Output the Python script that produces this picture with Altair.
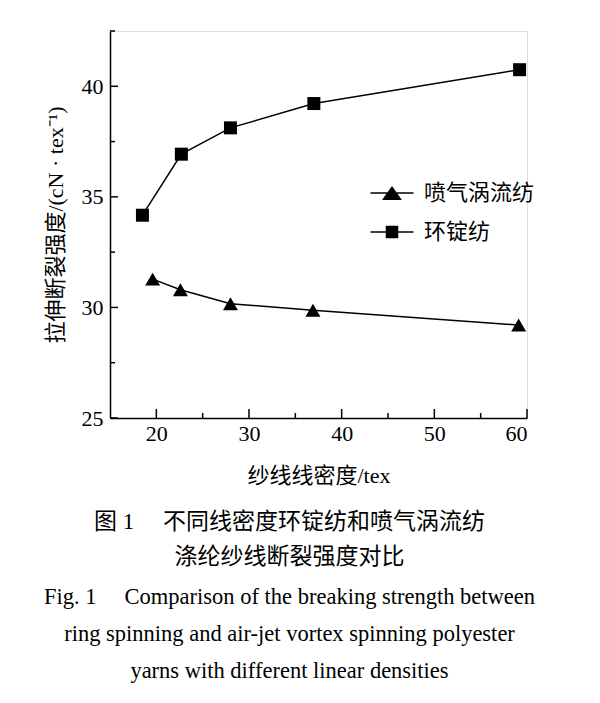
import altair as alt
import pandas as pd

# ---- data ----
series_names = ["喷气涡流纺", "环锭纺"]
density_air = [19.6, 22.6, 28.0, 36.9, 59.1]
strength_air = [31.28, 30.80, 30.17, 29.87, 29.20]
density_ring = [18.5, 22.7, 28.0, 37.0, 59.2]
strength_ring = [34.17, 36.93, 38.12, 39.22, 40.75]
x_major = [20, 30, 40, 50, 60]
x_minor = [25, 35, 45, 55]
y_major = [25, 30, 35, 40]
y_minor = [27.5, 32.5, 37.5, 42.5]
x_title = "纱线线密度/tex"
y_title = "拉伸断裂强度/(cN · tex⁻¹)"
caption_cn = ["图 1\u3000 不同线密度环锭纺和喷气涡流纺", "涤纶纱线断裂强度对比"]
caption_en = [
    "Fig. 1\u2003 Comparison of the breaking strength between",
    "ring spinning and air-jet vortex spinning polyester",
    "yarns with different linear densities",
]

rows = []
for name, xs_, ys_ in [(series_names[0], density_air, strength_air),
                       (series_names[1], density_ring, strength_ring)]:
    for a, b in zip(xs_, ys_):
        rows.append({"series": name, "density": a, "strength": b})
df = pd.DataFrame(rows)

W, H = 417, 387
SERIF = "Liberation Serif, Noto Sans CJK SC"
CJK = "Liberation Serif, Noto Sans CJK SC"

xscale = alt.Scale(domain=[15, 60], nice=False, zero=False)
yscale = alt.Scale(domain=[25, 42.5], nice=False, zero=False)

x_axis = alt.Axis(values=x_major, ticks=False, grid=False, labelFont=SERIF,
                  labelFontSize=22, labelColor="black", labelPadding=5,
                  domainColor="black", domainWidth=1.5, title=x_title,
                  titleFont=CJK, titleFontSize=22, titleFontWeight="normal",
                  titleColor="black", titlePadding=21)
y_axis = alt.Axis(values=y_major, ticks=False, grid=False, labelFont=SERIF,
                  labelFontSize=22, labelColor="black", labelPadding=7,
                  domainColor="black", domainWidth=1.5, title=y_title,
                  titleFont=CJK, titleFontSize=22, titleFontWeight="normal",
                  titleColor="black", titlePadding=14)

base = alt.Chart(df)
X = alt.X("density:Q", scale=xscale, axis=x_axis)
Y = alt.Y("strength:Q", scale=yscale, axis=y_axis)

lines = base.mark_line(color="black", strokeWidth=1.5).encode(
    x=X, y=Y, detail="series:N", order="density:Q")

points = base.mark_point(filled=True, color="black", opacity=1).encode(
    x="density:Q", y="strength:Q",
    shape=alt.Shape("series:N", scale=alt.Scale(domain=series_names, range=["triangle-up", "square"]), legend=None),
    size=alt.Size("series:N", scale=alt.Scale(domain=series_names, range=[225, 169]), legend=None),
)

tri_path = "M-2.15,0H2.15M-0.85,0.62L0,-0.58L0.85,0.62Z"
sq_path = "M-2.15,0H2.15M-0.55,-0.55H0.55V0.55H-0.55Z"


def legend_def(label_opacity):
    return alt.Legend(title=None, orient="none", legendX=271, legendY=151,
                      symbolSize=400, symbolFillColor="black",
                      symbolStrokeColor="black", symbolStrokeWidth=1.5,
                      symbolOpacity=1, labelFont=CJK, labelFontSize=22,
                      labelColor="black", labelOffset=21, rowPadding=17,
                      labelOpacity=label_opacity, padding=0)


# stroked legend symbols (line + marker outline) with labels
legend_stroke = base.mark_point(filled=False, color="black", opacity=0, strokeWidth=1.5).encode(
    x="density:Q", y="strength:Q",
    shape=alt.Shape("series:N", scale=alt.Scale(domain=series_names, range=[tri_path, sq_path]),
                    legend=legend_def(1)),
)
# filled legend symbols (marker fill), labels hidden
legend_fill = base.mark_point(filled=True, color="black", opacity=0).encode(
    x="density:Q", y="strength:Q",
    shape=alt.Shape("series:N", scale=alt.Scale(domain=series_names, range=[tri_path, sq_path]),
                    legend=legend_def(0)),
)

xt_major = alt.Chart(pd.DataFrame({"v": x_major})).mark_rule(color="black", strokeWidth=1.5).encode(
    x=alt.X("v:Q", scale=xscale), y=alt.value(H), y2=alt.value(H - 9))
xt_minor = alt.Chart(pd.DataFrame({"v": x_minor})).mark_rule(color="black", strokeWidth=1.5).encode(
    x=alt.X("v:Q", scale=xscale), y=alt.value(H), y2=alt.value(H - 5))
yt_major = alt.Chart(pd.DataFrame({"v": y_major})).mark_rule(color="black", strokeWidth=1.5).encode(
    y=alt.Y("v:Q", scale=yscale), x=alt.value(0), x2=alt.value(8))
yt_minor = alt.Chart(pd.DataFrame({"v": y_minor})).mark_rule(color="black", strokeWidth=1.5).encode(
    y=alt.Y("v:Q", scale=yscale), x=alt.value(0), x2=alt.value(5))

chart = alt.layer(lines, points, legend_stroke, legend_fill,
                  xt_major, xt_minor, yt_major, yt_minor).resolve_scale(
    shape="independent", size="independent"
).properties(
    width=W, height=H,
    autosize=alt.AutoSizeParams(type="none"),
    padding={"left": 102, "top": 23, "right": 65, "bottom": 277},
    title=alt.TitleParams(
        text=caption_cn, subtitle=caption_en, orient="bottom", anchor="middle",
        frame="bounds", font=CJK, fontSize=23, fontWeight="normal", lineHeight=35,
        color="black", subtitleFont="Liberation Serif", subtitleFontSize=22.5,
        subtitleColor="black", subtitleLineHeight=37, subtitlePadding=17, offset=25,
    ),
).configure_view(stroke=None).configure(background="white")

chart.save("out.html", embed_options={"renderer": "svg", "actions": False})
